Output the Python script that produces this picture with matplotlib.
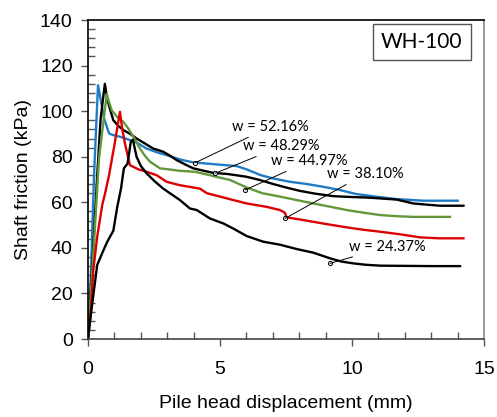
import numpy as np
import matplotlib
matplotlib.use("Agg")
import matplotlib.pyplot as plt
from matplotlib.ticker import MultipleLocator

# curves: pile head displacement (mm) vs shaft friction (kPa)
labels = ["w = 52.16%", "w = 48.29%", "w = 44.97%", "w = 38.10%", "w = 24.37%"]

x_5216 = [0, 0.1, 0.23, 0.38, 0.5, 0.61, 0.8, 0.96, 1.3, 1.59, 1.8, 2.22, 2.6, 2.98, 3.48, 3.99, 4.5, 5.0,
          5.63, 6.0, 6.52, 7.0, 7.65, 8.3, 8.91, 9.5, 10.17, 10.9, 11.69, 12.3, 12.7, 13.3, 14.0]
y_5216 = [0, 25, 72, 111.4, 104, 96.8, 90.2, 89.5, 88.5, 87.3, 86.5, 83.6, 82, 80.7, 78.8, 77.5, 77, 76.5,
          75.9, 74.5, 72, 70.5, 69, 68, 66.8, 65.5, 63.6, 62.5, 61.4, 61, 60.7, 60.7, 60.7]

x_4829 = [0, 0.2, 0.35, 0.48, 0.64, 0.72, 0.83, 0.96, 1.15, 1.34, 1.6, 1.84, 2.2, 2.47, 2.85, 3.1, 3.36, 3.7,
          3.99, 4.4, 4.75, 5.3, 6.01, 6.5, 7.02, 7.5, 8.03, 8.6, 9.29, 10.0, 10.56, 11.2, 11.69, 12.32, 12.8,
          13.33, 14.22]
y_4829 = [0, 40, 72, 96.8, 112, 106, 101, 96, 93.5, 91.7, 90, 88, 85.5, 83.6, 82.2, 80.5, 78.5, 76.5,
          74.9, 73.8, 72.9, 72.4, 71.2, 69.8, 68, 66.5, 65, 63.8, 62.7, 62.3, 62.1, 61.6, 61.2, 59.5, 59,
          58.5, 58.5]

x_4497 = [0, 0.04, 0.23, 0.42, 0.71, 0.8, 0.9, 1.1, 1.34, 1.55, 1.72, 1.97, 2.15, 2.35, 2.73, 3.1, 3.48,
          4.05, 4.5, 4.75, 5.38, 6.01, 6.6, 7.27, 7.9, 8.53, 9.2, 9.8, 10.4, 11.06, 11.7, 12.32, 13.0, 13.71]
y_4497 = [0, 6, 42.7, 79.4, 107.5, 104, 100.4, 97.5, 95.3, 92, 88.7, 83.6, 80.5, 77.8, 74.9, 74.4, 73.8,
          73.4, 72.2, 71.5, 69.8, 66.5, 64, 62.5, 61, 59.5, 58, 56.6, 55.5, 54.4, 53.9, 53.6, 53.6, 53.6]

x_3810 = [0, 0.1, 0.2, 0.35, 0.54, 0.65, 0.8, 1.0, 1.21, 1.3, 1.4, 1.59, 1.9, 2.22, 2.6, 2.98, 3.48, 3.99,
          4.24, 4.5, 5.0, 5.5, 6.01, 6.77, 7.27, 7.45, 7.52, 8.16, 9.0, 9.8, 10.4, 11.06, 11.8, 12.58, 13.3,
          14.22]
y_3810 = [0, 10.5, 30, 45, 58.8, 64, 72, 85, 99.7, 92, 85.8, 76.3, 74.5, 73.4, 71.9, 69, 67.5, 66.5,
          66, 64, 62.5, 61, 59.5, 58, 56.6, 55.5, 53.4, 52.2, 50.5, 49, 48, 47.1, 46, 44.6, 44.2, 44.2]

x_2437 = [0, 0.1, 0.35, 0.55, 0.73, 0.96, 1.11, 1.25, 1.36, 1.5, 1.62, 1.7, 1.84, 2.0, 2.22, 2.5, 2.85,
          3.48, 3.86, 4.12, 4.62, 5.13, 5.5, 6.01, 6.64, 7.27, 7.9, 8.53, 9.17, 9.6, 10.05, 10.5, 11.06,
          12.0, 13.0, 14.09]
y_2437 = [0, 10, 32.5, 38, 42.7, 47.5, 58, 66, 74.9, 77, 86.5, 87.5, 80, 76, 72.7, 69.5, 66, 61, 57.3,
          56.6, 52.9, 50.7, 48.5, 45.2, 42.7, 41.4, 39.5, 37.9, 35.4, 34, 33.2, 32.6, 32.2, 32.1, 32, 32]

series_x = [x_5216, x_4829, x_4497, x_3810, x_2437]
series_y = [y_5216, y_4829, y_4497, y_3810, y_2437]
colours = ["#1f7bc6", "#000000", "#62983a", "#dc0000", "#000000"]

# callout positions: (point on curve, text position)
callout_pts = [(4.05, 77.3), (4.81, 72.7), (5.95, 65.4), (7.46, 52.9), (9.17, 33.2)]
callout_txt = [(5.44, 93.1), (5.88, 84.6), (6.92, 78.1), (9.04, 72.4), (9.9, 40.5)]

fig = plt.figure(figsize=(4.97, 4.17), dpi=100)
ax = fig.add_axes([0.177, 0.187, 0.797, 0.765])

for xs, ys, c in zip(series_x, series_y, colours):
    ax.plot(xs, ys, color=c, lw=1.7, solid_joinstyle="round")

for lab, (px, py), (tx, ty) in zip(labels, callout_pts, callout_txt):
    ax.annotate(lab, xy=(px, py), xytext=(tx, ty), fontsize=10.5, family="Lato",
                va="center", ha="left",
                arrowprops=dict(arrowstyle="-", color="black", lw=0.7, shrinkA=1, shrinkB=0))
    ax.plot(px, py, marker="o", ms=3, mfc="white", mec="black", mew=0.7)

ax.set_xlim(0, 15)
ax.set_ylim(0, 140)
ax.xaxis.set_major_locator(MultipleLocator(5))
ax.xaxis.set_minor_locator(MultipleLocator(1))
ax.yaxis.set_major_locator(MultipleLocator(20))
ax.yaxis.set_minor_locator(MultipleLocator(4))
ax.tick_params(which="major", direction="out", length=5, width=1, color="#555555", labelsize=14, pad=6)
ax.tick_params(axis="x", which="major", pad=11)
ax.tick_params(which="minor", direction="in", length=5, width=1, color="#555555")
for lbl in ax.get_xticklabels() + ax.get_yticklabels():
    lbl.set_family("Liberation Sans")

ax.spines["left"].set_color("black")
ax.spines["bottom"].set_color("#444444")
ax.spines["top"].set_color("black")
ax.spines["right"].set_color("#888888")
for s in ax.spines.values():
    s.set_linewidth(1.2)

ax.set_xlabel("Pile head displacement (mm)", fontsize=14, family="Liberation Sans", labelpad=12)
ax.set_ylabel("Shaft friction (kPa)", fontsize=14, family="Liberation Sans", labelpad=6)

ax.text(0.843, 0.931, "WH-100", transform=ax.transAxes, fontsize=15, family="Lato",
        ha="center", va="center",
        bbox=dict(boxstyle="square,pad=0.4", fc="white", ec="#555555", lw=1))

fig.savefig("out.png", dpi=100)
